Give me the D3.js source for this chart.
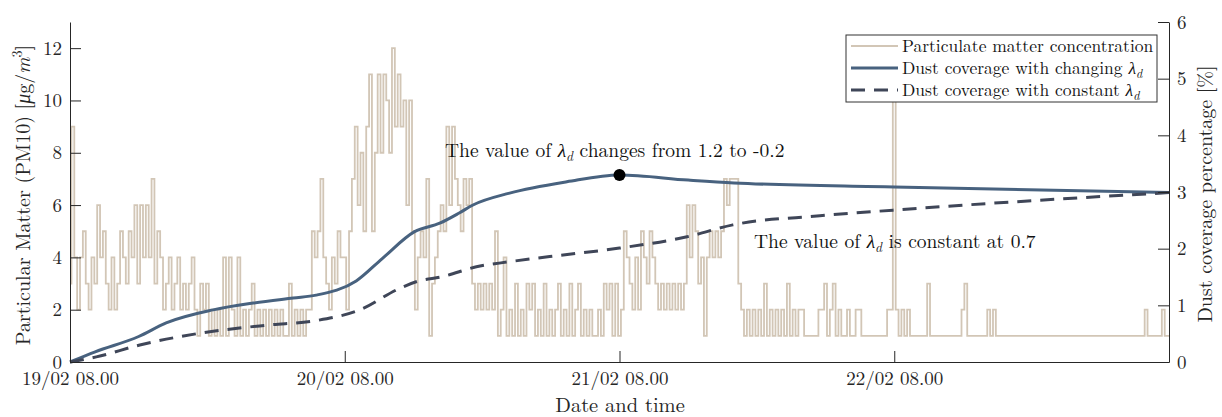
<!DOCTYPE html>
<html lang="en">
<head>
<meta charset="utf-8">
<title>PM10 and dust coverage</title>
<script src="https://d3js.org/d3.v7.min.js"></script>
<style>
  body { margin: 0; background: #fff; }
  svg { display: block; font-family: "Latin Modern Roman", "Liberation Serif", serif; }
  .axis text { font-family: "Latin Modern Roman", "Liberation Serif", serif; font-size: 19px; fill: #262626; }
  .axis path, .axis line { stroke: #262626; stroke-width: 1; }
</style>
</head>
<body>
<svg width="1222" height="417"></svg>
<script>
// PM10 readings, one every 15 minutes from 19/02 08.00 (µg/m3)
const pmValues = [
  3,9,4,2, 4,5,3,2, 4,3,6,4, 5,3,2,4, 2,3,5,4, 3,5,4,6,
  3,6,4,6, 4,7,3,5, 4,2,3,4, 2,3,4,2, 3,2,3,4, 2,1,3,2,
  3,1,2,1, 2,1,4,1, 4,2,1,4, 1,2,1,2, 3,1,2,1, 2,1,2,1,
  2,1,2,1, 1,3,1,2, 1,2,1,2, 2,5,4,5, 7,4,3,2, 4,3,5,4,
  4,2,5,7, 9,6,8,5, 9,11,5,8, 11,8,11,10, 8,12,9,11, 9,10,6,10,
  5,2,4,5, 4,7,1,3, 4,5,6,5, 9,6,9,7, 6,5,7,6, 7,3,2,3,
  2,3,2,3, 2,5,1,2, 4,1,2,1, 3,1,2,1, 3,2,3,1, 2,1,3,1,
  2,1,2,3, 1,2,1,3, 1,2,3,1, 2,1,2,1, 1,2,1,3, 2,3,1,3,
  1,2,5,4, 3,2,4,2, 5,4,3,5, 4,3,2,3, 2,3,2,3, 2,3,2,3,
  6,4,6,5, 3,4,1,4, 5,4,5,4, 5,7,6,7, 7,7,3,2, 1,2,1,2,
  1,2,1,3, 1,2,1,2, 1,2,1,3, 1,2,1,2, 2,1,1,1, 1,1,2,2,
  3,1,2,3, 1,2,1,1, 2,1,1,2, 2,1,1,1, 1,1,1,1, 1,1,2,2,
  11,2,1,2, 1,2,1,1, 1,1,1,1, 3,1,1,1, 1,1,1,1, 1,1,1,1,
  2,3,1,1, 1,1,1,1, 1,2,1,2, 1,1,1,1, 1,1,1,1, 1,1,1,1,
  1,1,1,1, 1,1,1,1, 1,1,1,1, 1,1,1,1, 1,1,1,1, 1,1,1,1,
  1,1,1,1, 1,1,1,1, 1,1,1,1, 1,1,1,1, 2,1,1,1, 1,1,2,1,
  1
];

// dust coverage (%) vs hours after 19/02 08.00
const changingHours = [0, 2.2, 6, 8.4, 12.5, 16, 19.5, 21.5, 25, 27.3, 30.1, 32.3, 34, 35.2, 38.4, 43.4, 48, 54, 58, 72, 96];
const changingVals  = [0, 0.18, 0.45, 0.69, 0.92, 1.04, 1.13, 1.18, 1.43, 1.83, 2.30, 2.45, 2.63, 2.77, 2.98, 3.18, 3.30, 3.21, 3.16, 3.09, 2.99];
const constantHours = [0, 2.3, 6.1, 11.4, 17.2, 21.5, 25.3, 28.8, 30.3, 32.6, 35.5, 38.4, 41.9, 48, 53.9, 57.9, 65.5, 71.9, 96];
const constantVals  = [0, 0.09, 0.30, 0.51, 0.65, 0.73, 0.92, 1.30, 1.42, 1.51, 1.68, 1.77, 1.86, 2.01, 2.21, 2.42, 2.58, 2.68, 2.99];

const changePoint = {hour: 48, value: 3.30};
const leftTicks = [0, 2, 4, 6, 8, 10, 12];
const rightTicks = [0, 1, 2, 3, 4, 5, 6];
const xTickDays = [19, 20, 21, 22];

const legendLabels = ["Particulate matter concentration", "Dust coverage with changing ", "Dust coverage with constant "];

const pmColor = "#d2c6b6";
const changingColor = "#48627f";
const constantColor = "#3f4658";

const plotLeft = 70, plotRight = 1169, plotTop = 22, plotBottom = 362;
const t0 = new Date(2021, 1, 19, 8, 0);
const hr = h => new Date(t0.getTime() + h * 3600 * 1000);

const svg = d3.select("svg");

const x = d3.scaleTime().domain([t0, hr(96)]).range([plotLeft, plotRight]);
const yL = d3.scaleLinear().domain([0, 13]).range([plotBottom, plotTop]);
const yR = d3.scaleLinear().domain([0, 6]).range([plotBottom, plotTop]);

const pmData = pmValues.map((v, i) => ({t: hr(i * 0.25), v: v}));
const changingData = changingHours.map((h, i) => ({t: hr(h), v: changingVals[i]}));
const constantData = constantHours.map((h, i) => ({t: hr(h), v: constantVals[i]}));

svg.append("path")
  .datum(pmData)
  .attr("fill", "none")
  .attr("stroke", pmColor)
  .attr("stroke-width", 1.8)
  .attr("d", d3.line().curve(d3.curveStep).x(d => x(d.t)).y(d => yL(d.v)));

svg.append("path")
  .datum(changingData)
  .attr("fill", "none")
  .attr("stroke", changingColor)
  .attr("stroke-width", 3)
  .attr("d", d3.line().curve(d3.curveMonotoneX).x(d => x(d.t)).y(d => yR(d.v)));

svg.append("path")
  .datum(constantData)
  .attr("fill", "none")
  .attr("stroke", constantColor)
  .attr("stroke-width", 3)
  .attr("stroke-dasharray", "14,9")
  .attr("d", d3.line().curve(d3.curveMonotoneX).x(d => x(d.t)).y(d => yR(d.v)));

svg.append("circle")
  .attr("cx", x(hr(changePoint.hour)))
  .attr("cy", yR(changePoint.value))
  .attr("r", 6)
  .attr("fill", "#000");

// text with a lambda_d in it
function lambdaText(sel, before, after) {
  sel.append("tspan").text(before);
  sel.append("tspan").attr("font-style", "italic").text("λ");
  sel.append("tspan").attr("font-style", "italic").attr("font-size", "0.7em").attr("dy", 4).text("d");
  sel.append("tspan").attr("dy", -4).text(after);
}

lambdaText(svg.append("text").attr("x", 445).attr("y", 157).attr("font-size", 19.5).attr("fill", "#111"),
  "The value of ", " changes from 1.2 to -0.2");
lambdaText(svg.append("text").attr("x", 754).attr("y", 248).attr("font-size", 19.5).attr("fill", "#111"),
  "The value of ", " is constant at 0.7");

// legend
const lg = svg.append("g");
lg.append("rect")
  .attr("x", 846).attr("y", 35).attr("width", 311).attr("height", 67)
  .attr("fill", "#fff").attr("stroke", "#333").attr("stroke-width", 1);
const rows = [
  {color: pmColor, w: 2, dash: null},
  {color: changingColor, w: 3, dash: null},
  {color: constantColor, w: 3, dash: "14,9"}
];
rows.forEach((r, i) => {
  const yy = 46 + i * 22;
  lg.append("line").attr("x1", 851).attr("x2", 898).attr("y1", yy).attr("y2", yy)
    .attr("stroke", r.color).attr("stroke-width", r.w).attr("stroke-dasharray", r.dash);
  const t = lg.append("text").attr("x", 902).attr("y", yy + 6).attr("font-size", 17.5).attr("fill", "#111");
  if (i === 0) t.text(legendLabels[0]);
  else lambdaText(t, legendLabels[i], "");
});

// axes
svg.append("g").attr("class", "axis")
  .attr("transform", `translate(0,${plotBottom})`)
  .call(d3.axisBottom(x)
    .tickValues(xTickDays.map(d => new Date(2021, 1, d, 8, 0)))
    .tickFormat(d3.timeFormat("%d/%m %H.%M"))
    .tickSizeInner(-11).tickSizeOuter(0).tickPadding(10));

svg.append("g").attr("class", "axis")
  .attr("transform", `translate(${plotLeft},0)`)
  .call(d3.axisLeft(yL).tickValues(leftTicks).tickFormat(d3.format("d"))
    .tickSizeInner(-11).tickSizeOuter(0).tickPadding(8));

svg.append("g").attr("class", "axis")
  .attr("transform", `translate(${plotRight},0)`)
  .call(d3.axisRight(yR).tickValues(rightTicks).tickFormat(d3.format("d"))
    .tickSizeInner(-11).tickSizeOuter(0).tickPadding(8));

// axis titles
svg.append("text")
  .attr("x", 620).attr("y", 412).attr("text-anchor", "middle")
  .attr("font-size", 20.5).attr("fill", "#262626").text("Date and time");

const yl = svg.append("text")
  .attr("transform", "translate(30,195) rotate(-90)")
  .attr("text-anchor", "middle").attr("font-size", 20).attr("fill", "#262626");
yl.append("tspan").text("Particular Matter (PM10) [");
yl.append("tspan").attr("font-style", "italic").text("μ");
yl.append("tspan").text("g/");
yl.append("tspan").attr("font-style", "italic").text("m");
yl.append("tspan").attr("font-size", "0.7em").attr("dy", -8).text("3");
yl.append("tspan").attr("dy", 8).text("]");

svg.append("text")
  .attr("transform", "translate(1212,194) rotate(-90)")
  .attr("text-anchor", "middle").attr("font-size", 20).attr("fill", "#262626")
  .text("Dust coverage percentage [%]");
</script>
</body>
</html>
